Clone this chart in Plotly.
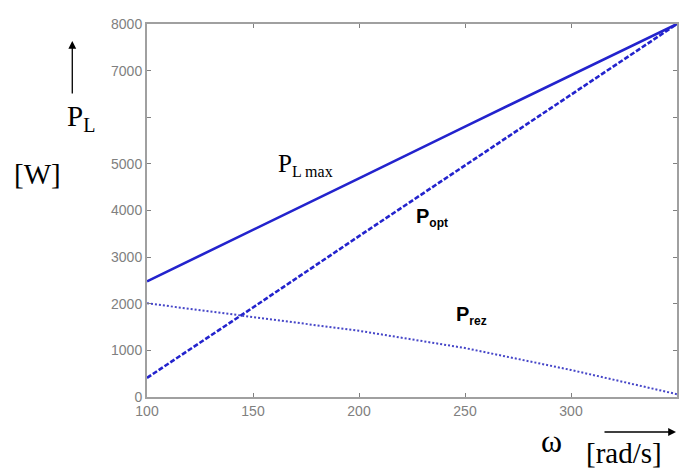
# 功率-角速度特性曲线
import plotly.graph_objects as go

# 数据
omega = [100, 150, 200, 250, 300, 350]
p_l_max = [2480, 3580, 4690, 5800, 6900, 8000]
p_opt = [410, 1920, 3450, 4970, 6490, 8000]
p_rez = [2010, 1720, 1420, 1050, 580, 60]

y_tickvals = [0, 1000, 2000, 3000, 4000, 5000, 6000, 7000, 8000]
y_ticktext = ["0", "1000", "2000", "3000", "4000", "5000", "", "7000", "8000"]
x_tickvals = [100, 150, 200, 250, 300, 350]

blue = "rgb(35,35,205)"

fig = go.Figure()

fig.add_trace(
    go.Scatter(x=omega, y=p_l_max, mode="lines", name="P_L max",
               line=dict(color=blue, width=2.6))
)
fig.add_trace(
    go.Scatter(x=omega, y=p_opt, mode="lines", name="P_opt",
               line=dict(color=blue, width=2.6, dash="5px,2px"))
)
fig.add_trace(
    go.Scatter(x=omega, y=p_rez, mode="lines", name="P_rez",
               line=dict(color="rgb(70,70,200)", width=2, dash="2px,2px"))
)

times = "Liberation Serif"
arial = "Liberation Sans"


def px_x(x):
    # 像素坐标 -> paper 坐标 (绘图区 147..679, 24..397)
    return (x - 147) / (679 - 147)


def px_y(y):
    return (397 - y) / (397 - 24)


def sub(text, size):
    return f"<sub><span style='font-size:{size}px'>{text}</span></sub>"


annotations = [
    # 曲线标签
    dict(x=306, y=165, text="P" + sub("L max", 16), font=dict(family=times, size=25, color="black")),
    dict(x=433, y=217, text="<b>P</b>" + sub("<b>opt</b>", 12), font=dict(family=arial, size=20, color="black")),
    dict(x=473, y=315, text="<b>P</b>" + sub("<b>rez</b>", 12), font=dict(family=arial, size=20, color="black")),
    # 坐标轴标签
    dict(x=81, y=118, text="P" + sub("L", 20), font=dict(family=times, size=29, color="black")),
    dict(x=37, y=174, text="[W]", font=dict(family=times, size=29, color="black")),
    dict(x=553, y=441, text="ω", font=dict(family=times, size=32, color="black")),
    dict(x=626, y=453, text="[rad/s]", font=dict(family=times, size=29, color="black")),
]
for a in annotations:
    a.update(xref="paper", yref="paper", showarrow=False, xanchor="center", yanchor="middle")
    a["x"] = px_x(a["x"])
    a["y"] = px_y(a["y"])
fig.update_layout(annotations=annotations)

# 箭头
fig.add_annotation(
    x=px_x(72), y=px_y(41), ax=0, ay=54,
    xref="paper", yref="paper", axref="pixel", ayref="pixel",
    showarrow=True, arrowhead=2, arrowsize=1.2, arrowwidth=1.3, arrowcolor="black", text="",
)
fig.add_annotation(
    x=px_x(678), y=px_y(432), ax=-73, ay=0,
    xref="paper", yref="paper", axref="pixel", ayref="pixel",
    showarrow=True, arrowhead=2, arrowsize=1.2, arrowwidth=1.3, arrowcolor="black", text="",
)

axis_style = dict(
    showgrid=False,
    zeroline=False,
    showline=True,
    linecolor="#a0a0a0",
    linewidth=2,
    mirror="allticks",
    ticks="inside",
    ticklen=4,
    tickcolor="#808080",
    tickfont=dict(family=arial, size=14, color="#808080"),
)

fig.update_xaxes(range=[100, 350], tickvals=x_tickvals, **axis_style)
fig.update_yaxes(range=[0, 8000], tickvals=y_tickvals, ticktext=y_ticktext, **axis_style)

fig.update_layout(
    width=679,
    height=470,
    margin=dict(l=147, r=0, t=24, b=73),
    paper_bgcolor="white",
    plot_bgcolor="white",
    showlegend=False,
)

# 去掉页面 body 的默认边距
fig.write_html(
    "out.html",
    config={"displayModeBar": False},
    post_script="document.body.style.margin='0';",
)
